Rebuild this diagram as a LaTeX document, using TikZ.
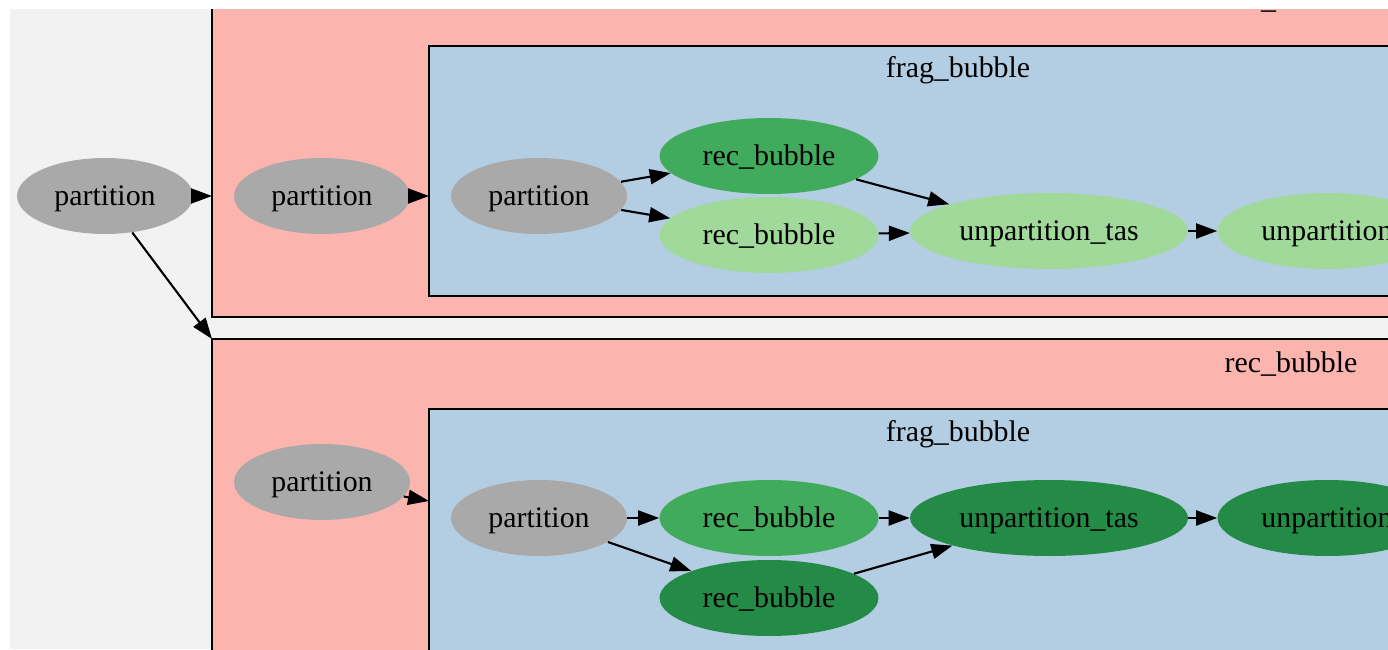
\documentclass[tikz,border=0pt]{standalone}
\usepackage{fontspec}
\setmainfont{Liberation Serif}
\usepackage{xcolor}
\usetikzlibrary{arrows.meta,shapes.geometric}

\definecolor{bggray}{HTML}{F2F2F2}
\definecolor{clred}{HTML}{FBB4AE}
\definecolor{clblue}{HTML}{B3CDE3}
\definecolor{nodegray}{HTML}{A9A9A9}
\definecolor{grnmid}{HTML}{41AB5D}
\definecolor{grnlight}{HTML}{A1D99B}
\definecolor{grndark}{HTML}{238B45}

\begin{document}
\begin{tikzpicture}[
  x=0.02cm, y=-0.02cm,
  cluster/.style={draw, line width=1.2pt, rectangle, anchor=north west, inner sep=0pt, outer sep=0pt},
  cllabel/.style={font=\fontsize{17}{20}\selectfont, inner sep=0pt, text height=0.5cm, text depth=0.14cm},
  op/.style={ellipse, inner sep=0pt, minimum height=1.52cm, text height=0.5cm, text depth=0.14cm, font=\fontsize{17}{20}\selectfont},
  arr/.style={-{Triangle[length=4.2mm, width=3mm]}, line width=1.2pt},
]
  \useasboundingbox (0,0) rectangle (1388,649);
  \fill[white] (0,0) rectangle (1388,649);
  \fill[bggray] (10,9) rectangle (1388,649);
  \clip (10,9) rectangle (1388,649);

  % clusters
  \node[cluster, fill=clred, minimum width=26cm, minimum height=6.84cm] (redA) at (212,-25) {};
  \node[cllabel] (redAlbl) at (1291,0) {rec\_bubble};
  \node[cluster, fill=clblue, minimum width=22cm, minimum height=5cm] (blueA) at (429,46) {};
  \node[cllabel] (blueAlbl) at (958,69) {frag\_bubble};

  \node[cluster, fill=clred, minimum width=26cm, minimum height=8cm] (redB) at (212,339) {};
  \node[cllabel] (redBlbl) at (1291,363) {rec\_bubble};
  \node[cluster, fill=clblue, minimum width=22cm, minimum height=6cm] (blueB) at (429,409) {};
  \node[cllabel] (blueBlbl) at (958,432) {frag\_bubble};

  % nodes
  \node[op, fill=nodegray, minimum width=3.52cm] (p0)  at (105,196) {partition};
  \node[op, fill=nodegray, minimum width=3.52cm] (pA1) at (322,196) {partition};
  \node[op, fill=nodegray, minimum width=3.52cm] (pA2) at (539,196) {partition};
  \node[op, fill=grnmid,   minimum width=4.38cm] (rA1) at (769,156) {rec\_bubble};
  \node[op, fill=grnlight, minimum width=4.38cm] (rA2) at (769,235) {rec\_bubble};
  \node[op, fill=grnlight, minimum width=5.56cm] (uA1) at (1049,231) {unpartition\_tas};
  \node[op, fill=grnlight, minimum width=4.38cm] (uA2) at (1327,231) {unpartition};

  \node[op, fill=nodegray, minimum width=3.52cm] (pB1) at (322,482) {partition};
  \node[op, fill=nodegray, minimum width=3.52cm] (pB2) at (539,518) {partition};
  \node[op, fill=grnmid,   minimum width=4.38cm] (rB1) at (769,518) {rec\_bubble};
  \node[op, fill=grndark,  minimum width=4.38cm] (rB2) at (769,598) {rec\_bubble};
  \node[op, fill=grndark,  minimum width=5.56cm] (uB1) at (1049,518) {unpartition\_tas};
  \node[op, fill=grndark,  minimum width=4.38cm] (uB2) at (1327,518) {unpartition};
  \coordinate (blueBin) at (429,501);

  % edges
  \draw[arr] (p0) -- (p0 -| redA.west);
  \draw[arr] (p0) -- (redB.north west);
  \draw[arr] (pA1) -- (pA1 -| blueA.west);
  \draw[arr] (pA2) -- (rA1);
  \draw[arr] (pA2) -- (rA2);
  \draw[arr] (rA1) -- (uA1);
  \draw[arr] (rA2) -- (uA1);
  \draw[arr] (uA1) -- (uA2);

  \draw[arr] (pB1) -- (blueBin);
  \draw[arr] (pB2) -- (rB1);
  \draw[arr] (pB2) -- (rB2);
  \draw[arr] (rB1) -- (uB1);
  \draw[arr] (rB2) -- (uB1);
  \draw[arr] (uB1) -- (uB2);
\end{tikzpicture}
\end{document}
